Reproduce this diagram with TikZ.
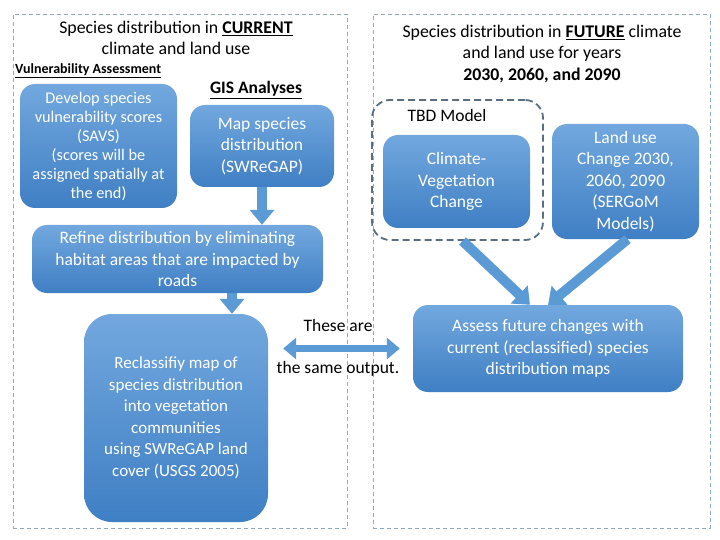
\documentclass[tikz,border=0pt]{standalone}
\usepackage{fontspec}
\setmainfont{Carlito}
\usetikzlibrary{arrows.meta,shapes.misc}
\definecolor{boxtop}{HTML}{72A8DE}
\definecolor{boxbot}{HTML}{3F7FC4}
\definecolor{arrowblue}{HTML}{5B9BD5}
\definecolor{panelline}{HTML}{8FA9BF}
\definecolor{tbdline}{HTML}{5A6E80}
\begin{document}
\begin{tikzpicture}[x=1pt,y=-1pt,
    panel/.style={draw=panelline, line width=0.8pt, dash pattern=on 4pt off 3pt},
    bluebox/.style={rounded corners=15pt, top color=boxtop, bottom color=boxbot, draw=none,
        text=white, align=center, font=\fontsize{17.5}{21.5}\selectfont, inner sep=2pt},
    titletext/.style={align=center, font=\fontsize{17.8}{21.5}\selectfont},
    headtext/.style={font=\bfseries\fontsize{17.5}{18}\selectfont},
    blockarrow/.style={arrowblue, line width=10pt, -{Triangle[width=24pt,length=15pt]}},
    dblarrow/.style={arrowblue, line width=7pt, {Triangle[width=21pt,length=13pt]}-{Triangle[width=21pt,length=13pt]}}]

    \useasboundingbox (0,0) rectangle (720,540);
    \fill[white] (0,0) rectangle (720,540);

    \node[panel, minimum width=334pt, minimum height=514pt] (current) at (180,271) {};
    \node[panel, minimum width=337pt, minimum height=514pt] (future) at (541.5,271) {};

    \node[titletext] (titlecur) at (176,38) {Species distribution in \underline{\textbf{CURRENT}}\\climate and land use};
    \node[titletext] (titlefut) at (542,54) {Species distribution in \underline{\textbf{FUTURE}} climate\\and land use for years\\\textbf{2030, 2060, and 2090}};

    \node[anchor=west, font=\bfseries\fontsize{14}{16}\selectfont, inner sep=0pt] (vulner) at (15,71) {\underline{Vulnerability Assessment}};
    \node[headtext] (gis) at (256,90) {\underline{GIS Analyses}};

    \node[bluebox, minimum width=157pt, minimum height=124pt, font=\fontsize{16.3}{19}\selectfont] (develop) at (98.5,146)
        {Develop species\\vulnerability scores\\(SAVS)\\(scores will be\\assigned spatially at\\the end)};
    \node[bluebox, minimum width=144pt, minimum height=82pt] (mapdist) at (262,146)
        {Map species\\distribution\\(SWReGAP)};
    \node[bluebox, minimum width=291pt, minimum height=68pt] (refine) at (177.5,259)
        {Refine distribution by eliminating\\habitat areas that are impacted by\\roads};
    \node[bluebox, rounded corners=28pt, minimum width=184pt, minimum height=208pt, font=\fontsize{17}{21.5}\selectfont] (reclass) at (176,418)
        {Reclassifiy map of\\species distribution\\into vegetation\\communities\\using SWReGAP land\\cover (USGS 2005)};

    \node[draw=tbdline, line width=1.8pt, dash pattern=on 7pt off 4pt, rounded corners=18pt,
        minimum width=171pt, minimum height=140pt] (tbd) at (457.5,170) {};
    \node[font=\fontsize{17.5}{18}\selectfont] (tbdlabel) at (447,115) {TBD Model};
    \node[bluebox, minimum width=147pt, minimum height=93pt] (climate) at (456.5,181.5)
        {Climate-\\Vegetation\\Change};
    \node[bluebox, minimum width=147pt, minimum height=115pt] (landuse) at (625.5,181.5)
        {Land use\\Change 2030,\\2060, 2090\\(SERGoM\\Models)};
    \node[bluebox, minimum width=270pt, minimum height=87pt] (assess) at (548,348.5)
        {Assess future changes with\\current (reclassified) species\\distribution maps};

    \node[font=\fontsize{17.5}{18}\selectfont] (theseare) at (338,325) {These are};
    \node[font=\fontsize{17.5}{18}\selectfont] (sameout) at (338,369) {the same output.};

    \draw[blockarrow] (mapdist.south) -- (mapdist.south |- refine.north);
    \draw[blockarrow] ([xshift=54.5pt]refine.south) -- ([xshift=54.5pt]refine.south |- reclass.north);
    \draw[dblarrow] ([xshift=15pt]reclass.east |- assess.west) -- ([xshift=-13pt]assess.west);
    \draw[blockarrow] ([xshift=5pt]tbd.south) -- ([xshift=-18pt]assess.north);
    \draw[blockarrow] ([xshift=2pt]landuse.south) -- (assess.north);
\end{tikzpicture}
\end{document}
